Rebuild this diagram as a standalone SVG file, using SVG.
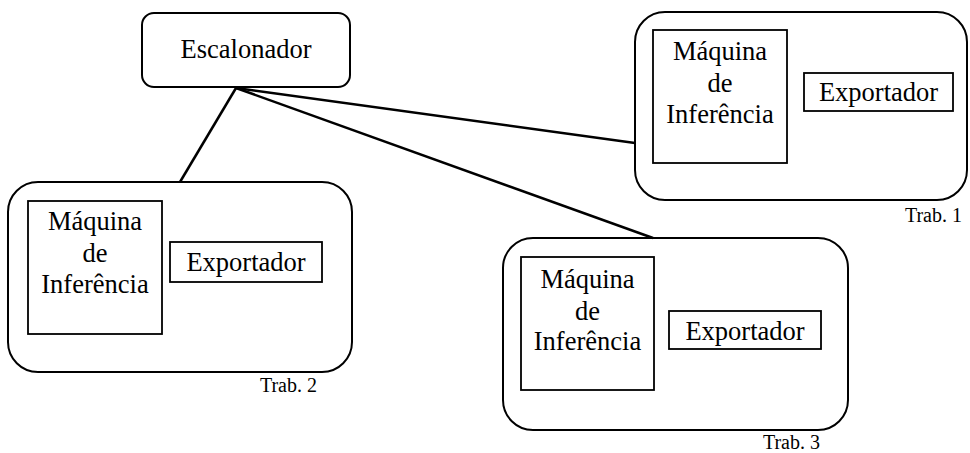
<svg xmlns="http://www.w3.org/2000/svg" width="970" height="453" viewBox="0 0 970 453">
  <style>
    .frame { fill: #fff; stroke: #000; stroke-width: 2; }
    .box { fill: #fff; stroke: #000; stroke-width: 1.8; }
    .link { stroke: #000; stroke-width: 2.5; fill: none; }
    .t { font-family: "Liberation Serif", "Times New Roman", serif; font-size: 26.5px; fill: #000; text-anchor: middle; }
    .lbl { font-family: "Liberation Serif", "Times New Roman", serif; font-size: 20px; fill: #000; text-anchor: end; }
  </style>
  <rect width="970" height="453" fill="#fff"/>

  <!-- scheduler -->
  <g id="escalonador">
    <rect class="frame" x="142" y="13" width="208" height="74" rx="12"/>
    <text class="t" x="246" y="58">Escalonador</text>
  </g>

  <!-- worker 1 -->
  <g id="trab1">
    <rect class="frame" x="635" y="12" width="332" height="188" rx="30"/>
    <rect class="box" x="653" y="30" width="134" height="133"/>
    <text class="t" x="720" y="60">Máquina</text>
    <text class="t" x="720" y="92">de</text>
    <text class="t" x="720" y="123">Inferência</text>
    <rect class="box" x="804" y="73" width="149" height="38"/>
    <text class="t" x="878.5" y="101">Exportador</text>
    <text class="lbl" x="962" y="222">Trab. 1</text>
  </g>

  <!-- worker 2 -->
  <g id="trab2">
    <rect class="frame" x="8" y="182" width="344" height="190" rx="30"/>
    <rect class="box" x="28" y="201" width="134" height="133"/>
    <text class="t" x="95" y="230">Máquina</text>
    <text class="t" x="95" y="262">de</text>
    <text class="t" x="95" y="293">Inferência</text>
    <rect class="box" x="170" y="242" width="152" height="40"/>
    <text class="t" x="246" y="271">Exportador</text>
    <text class="lbl" x="317" y="392">Trab. 2</text>
  </g>

  <!-- worker 3 -->
  <g id="trab3">
    <rect class="frame" x="503" y="238" width="345" height="192" rx="30"/>
    <rect class="box" x="521" y="257" width="133" height="133"/>
    <text class="t" x="587.5" y="288">Máquina</text>
    <text class="t" x="587.5" y="320">de</text>
    <text class="t" x="587.5" y="350">Inferência</text>
    <rect class="box" x="669" y="311" width="152" height="38"/>
    <text class="t" x="745" y="340">Exportador</text>
    <text class="lbl" x="820" y="449">Trab. 3</text>
  </g>

  <!-- links from the scheduler to each worker -->
  <g id="connectors">
    <line class="link" x1="236" y1="88" x2="180" y2="182"/>
    <line class="link" x1="236" y1="88" x2="635" y2="143"/>
    <line class="link" x1="236" y1="88" x2="653" y2="238"/>
  </g>
</svg>
